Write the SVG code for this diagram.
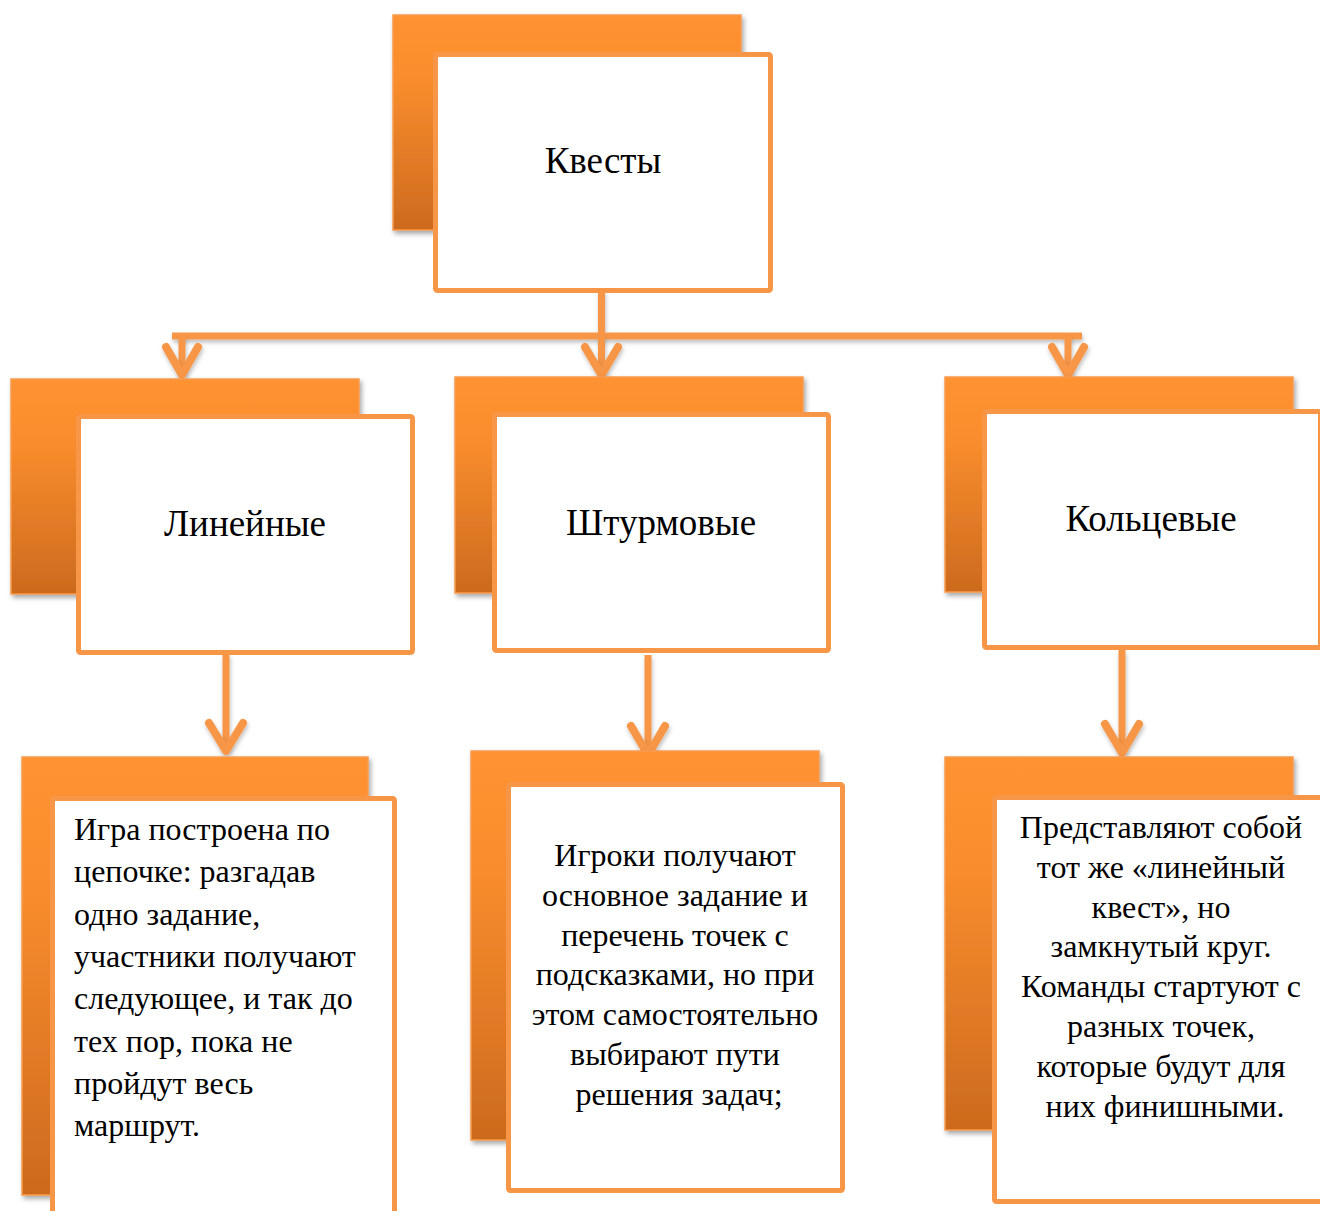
<svg xmlns="http://www.w3.org/2000/svg" width="1320" height="1211" viewBox="0 0 1320 1211">
<defs>
<linearGradient id="g" x1="0" y1="0" x2="0" y2="1">
<stop offset="0" stop-color="#FF9331"/>
<stop offset="0.3" stop-color="#F98D2D"/>
<stop offset="1" stop-color="#CC6A1E"/>
</linearGradient>
<filter id="sh" x="-10%" y="-10%" width="130%" height="130%">
<feDropShadow dx="2" dy="3" stdDeviation="2.5" flood-color="#000" flood-opacity="0.35"/>
</filter>
<filter id="sh2" x="-10%" y="-50%" width="130%" height="200%">
<feDropShadow dx="1" dy="3" stdDeviation="2" flood-color="#000" flood-opacity="0.25"/>
</filter>
</defs>
<style>
.back{fill:url(#g);stroke:#F89A4E;stroke-width:1.5;filter:url(#sh)}
.front{fill:#fff;stroke:#F79646;stroke-width:5}
.t{font-family:"Liberation Serif","Times New Roman",serif;fill:#000}
.h{font-size:37px;text-anchor:middle}
.b{font-size:32px}
.c{text-anchor:middle}
.con{stroke:#F79646;stroke-width:7;fill:none;filter:url(#sh2)}
.arr{stroke:#F79646;stroke-width:8;fill:none;stroke-linecap:round;stroke-linejoin:round;filter:url(#sh2)}
</style>
<rect width="1320" height="1211" fill="#fff"/>

<g id="connectors">
<path class="con" d="M601.5 291 V336 M172 336 H1082"/>
<path class="con" d="M182 336 V374 M601.5 336 V374 M1068 336 V374"/>
<path class="arr" d="M166 347 L182 375 L198 347 M585 347 L601.5 375 L618 347 M1052 347 L1068 375 L1084 347"/>
<path class="con" d="M226 654 V750 M648 655 V754 M1122 650 V752"/>
<path class="arr" d="M209 723 L226 751 L243 723 M631 726 L648 755 L665 726 M1105 724 L1122 753 L1139 724"/>
</g>

<g id="node-kvesty">
<rect class="back" x="393" y="15" width="348" height="215"/>
<rect class="front" x="435.5" y="54.5" width="335" height="236" rx="2"/>
<text class="t h" x="603" y="173">Квесты</text>
</g>

<g id="node-lineinye">
<rect class="back" x="11" y="379" width="348" height="215"/>
<rect class="front" x="78.5" y="416.5" width="334" height="236" rx="2"/>
<text class="t h" x="245" y="536">Линейные</text>
</g>

<g id="node-shturmovye">
<rect class="back" x="455" y="377" width="348" height="216"/>
<rect class="front" x="494.5" y="414.5" width="334" height="236" rx="2"/>
<text class="t h" x="661" y="535">Штурмовые</text>
</g>

<g id="node-kolcevye">
<rect class="back" x="945" y="377" width="348" height="215"/>
<rect class="front" x="984.5" y="411.5" width="336" height="236" rx="2"/>
<text class="t h" x="1151" y="531">Кольцевые</text>
</g>

<g id="node-desc-lineinye">
<rect class="back" x="22" y="757" width="346" height="438"/>
<rect class="front" x="52.5" y="798.5" width="342" height="420" rx="2"/>
<text class="t b" x="74" y="840">
<tspan x="74" y="840">Игра построена по</tspan>
<tspan x="74" y="882.3">цепочке: разгадав</tspan>
<tspan x="74" y="924.6">одно задание,</tspan>
<tspan x="74" y="966.9">участники получают</tspan>
<tspan x="74" y="1009.2">следующее, и так до</tspan>
<tspan x="74" y="1051.5">тех пор, пока не</tspan>
<tspan x="74" y="1093.8">пройдут весь</tspan>
<tspan x="74" y="1136.1">маршрут.</tspan>
</text>
</g>

<g id="node-desc-shturmovye">
<rect class="back" x="471" y="751" width="348" height="389"/>
<rect class="front" x="508.5" y="784.5" width="334" height="406" rx="2"/>
<text class="t b c" x="679" y="866">
<tspan x="679" y="866">Игроки получают</tspan>
<tspan x="679" y="905.8">основное задание и</tspan>
<tspan x="679" y="945.6">перечень точек с</tspan>
<tspan x="679" y="985.4">подсказками, но при</tspan>
<tspan x="679" y="1025.2">этом самостоятельно</tspan>
<tspan x="679" y="1065">выбирают пути</tspan>
<tspan x="679" y="1104.8">решения задач;</tspan>
</text>
</g>

<g id="node-desc-kolcevye">
<rect class="back" x="945" y="757" width="348" height="373"/>
<rect class="front" x="994.5" y="797.5" width="336" height="404" rx="2"/>
<text class="t b c" x="1165" y="838">
<tspan x="1165" y="838">Представляют собой</tspan>
<tspan x="1165" y="877.8">тот же «линейный</tspan>
<tspan x="1165" y="917.6">квест», но</tspan>
<tspan x="1165" y="957.4">замкнутый круг.</tspan>
<tspan x="1165" y="997.2">Команды стартуют с</tspan>
<tspan x="1165" y="1037">разных точек,</tspan>
<tspan x="1165" y="1076.8">которые будут для</tspan>
<tspan x="1165" y="1116.6">них финишными.</tspan>
</text>
</g>
</svg>
